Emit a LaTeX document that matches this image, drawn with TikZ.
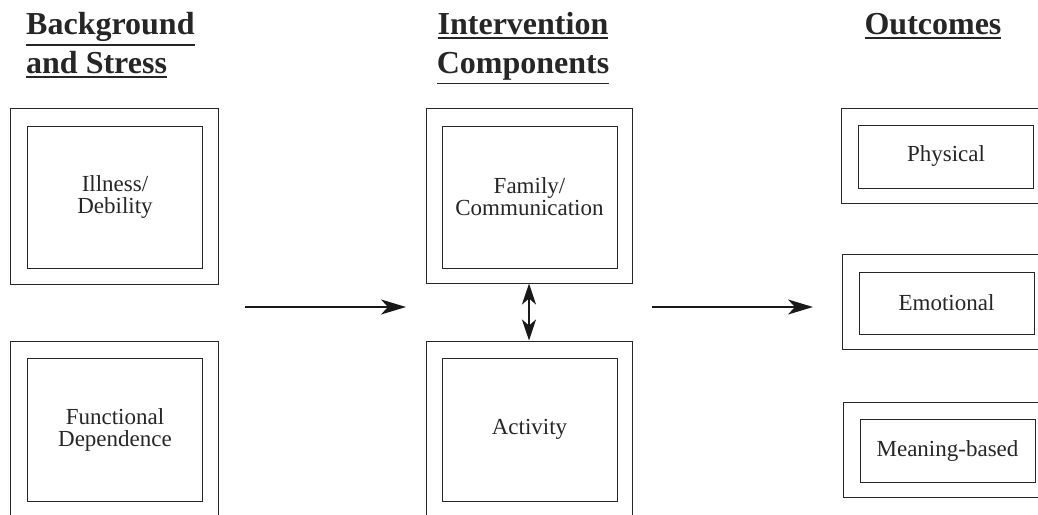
\documentclass[tikz,border=0pt]{standalone}
\usepackage{fontspec}
\setmainfont{Liberation Serif}
\usetikzlibrary{arrows.meta}
\newcommand{\hdul}[1]{\leavevmode\vtop{\hbox{#1}\kern3pt\hrule height 1.6pt}}
\begin{document}
\begin{tikzpicture}[x=1pt,y=-1pt,
  outerbox/.style={draw=black!85,line width=1pt,minimum width=#1,inner sep=0pt},
  innerbox/.style={draw=black!85,line width=1pt,align=center,inner sep=0pt,
    font=\fontsize{23}{22}\selectfont,text=black!85},
  heading/.style={font=\fontsize{32}{39}\selectfont\bfseries,text=black!85,inner sep=0pt},
  flow/.style={line width=2.2pt,draw=black!90,-{Stealth[length=25pt,width=15pt,inset=7pt]}},
  both/.style={line width=2.2pt,draw=black!90,{Stealth[length=21pt,width=14pt,inset=6pt]}-{Stealth[length=21pt,width=14pt,inset=6pt]}}]
\useasboundingbox (0,0) rectangle (1038,514);
% headings
\node[heading,anchor=base west,align=left] (h1) at (26,73) {\hdul{Background}\\\hdul{and Stress}};
\node[heading,anchor=base,align=center] (h2) at (523,73) {\hdul{Intervention}\\\hdul{Components}};
\node[heading,anchor=base] (h3) at (933,34) {\hdul{Outcomes}};
% left column
\node[outerbox=208pt,minimum height=176pt] (o1) at (114,196) {};
\node[innerbox,minimum width=175pt,minimum height=142pt] (i1) at (115,197) {Illness/\\Debility};
\node[outerbox=208pt,minimum height=177pt] (o2) at (114,429.5) {};
\node[innerbox,minimum width=175pt,minimum height=143pt] (i2) at (115,429.5) {Functional\\Dependence};
% middle column
\node[outerbox=206pt,minimum height=175pt] (o3) at (529,195.5) {};
\node[innerbox,minimum width=175pt,minimum height=142pt] (i3) at (529.5,197) {Family/\\Communication};
\node[outerbox=206pt,minimum height=177pt] (o4) at (529,429.5) {};
\node[innerbox,minimum width=175pt,minimum height=143pt] (i4) at (529.5,429.5) {Activity};
% right column
\node[outerbox=206pt,minimum height=95pt] (o5) at (944,155.5) {};
\node[innerbox,minimum width=175pt,minimum height=63pt] (i5) at (946,156.5) {Physical};
\node[outerbox=206pt,minimum height=95pt] (o6) at (945,301.5) {};
\node[innerbox,minimum width=175pt,minimum height=62pt] (i6) at (946.5,303) {Emotional};
\node[outerbox=206pt,minimum height=95pt] (o7) at (946,449.5) {};
\node[innerbox,minimum width=175pt,minimum height=63pt] (i7) at (947.5,450.5) {Meaning-based};
% arrows
\coordinate (a1s) at (245,307);
\coordinate (a1e) at (406,307);
\coordinate (a2s) at (652,307);
\coordinate (a2e) at (813,307);
\draw[flow] (a1s) -- (a1e);
\draw[flow] (a2s) -- (a2e);
\draw[both] (o3.south) -- (o4.north);
\end{tikzpicture}
\end{document}
